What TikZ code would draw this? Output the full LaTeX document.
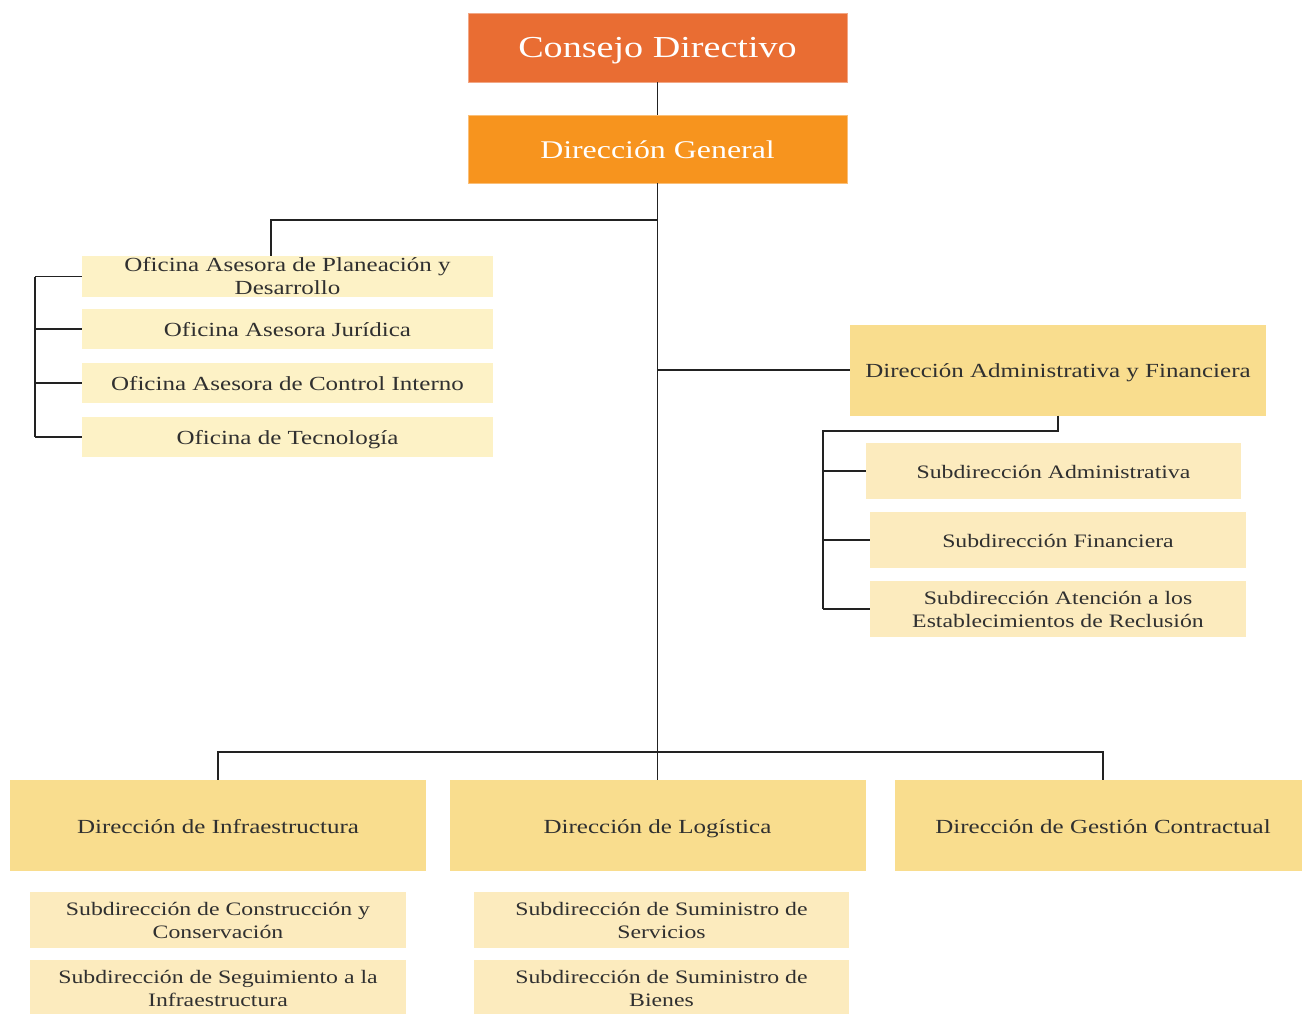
\documentclass[tikz,border=0pt]{standalone}
\usepackage{fontspec}
\setmainfont{Liberation Serif}[FakeStretch=1.25]
\usepackage{tikz}
\usetikzlibrary{positioning}
\definecolor{cdorange}{HTML}{E96D33}
\definecolor{dgorange}{HTML}{F7941E}
\definecolor{diryellow}{HTML}{F9DD8E}
\definecolor{ofyellow}{HTML}{FDF2C6}
\definecolor{subyellow}{HTML}{FCEBBE}
\definecolor{txtgray}{HTML}{303030}
\definecolor{linegray}{HTML}{222222}
\tikzset{
  cdbox/.style={ fill=cdorange, draw=cdorange!60, text=white, minimum width=379pt, minimum height=69pt, inner sep=0pt, text height=21pt, text depth=2pt, font=\fontsize{30.5}{34}\selectfont }
}
\tikzset{
  dgbox/.style={ fill=dgorange, draw=dgorange!60, text=white, minimum width=379pt, minimum height=68pt, inner sep=0pt, text height=19pt, text depth=1pt, font=\fontsize{25.5}{28}\selectfont }
}
\tikzset{
  dirbox/.style={ fill=diryellow, text=txtgray, minimum width=416pt, minimum height=91pt, inner sep=0pt, text height=17pt, text depth=2pt, font=\fontsize{20}{23}\selectfont }
}
\tikzset{
  ofbox/.style={ fill=ofyellow, text=txtgray, minimum width=411pt, minimum height=40pt, inner sep=0pt, align=center, font=\fontsize{20}{23}\selectfont }
}
\tikzset{
  subbox/.style={ fill=subyellow, text=txtgray, minimum width=376pt, minimum height=56pt, inner sep=0pt, align=center, font=\fontsize{19}{23}\selectfont }
}
\tikzset{
  oneline/.style={ text height=15pt, text depth=1pt }
}
\tikzset{
  link/.style={ draw=linegray, line width=1.4pt }
}

\begin{document}
\begin{tikzpicture}[x=1pt, y=-1pt]
      \useasboundingbox (0, 0) rectangle (1302, 1013);
      \node[cdbox] (cd) at (657.5, 47.5) {Consejo Directivo};
      \node[dgbox] (dg) at (657.5, 149) {Dirección General};
      % oficinas asesoras
      \node[ofbox, minimum height=41pt] (ofp) at (287.5, 276.5) {Oficina Asesora de Planeación y\\Desarrollo};
      \node[ofbox, oneline] (ofj) at (287.5, 329) {Oficina Asesora Jurídica};
      \node[ofbox, oneline] (ofc) at (287.5, 383) {Oficina Asesora de Control Interno};
      \node[ofbox, oneline] (oft) at (287.5, 437) {Oficina de Tecnología};
      % direccion administrativa
      \node[dirbox] (daf) at (1058, 370) {Dirección Administrativa y Financiera};
      \node[subbox, oneline, minimum width=375pt] (sa) at (1053.5, 471) {Subdirección Administrativa};
      \node[subbox, oneline] (sf) at (1058, 540) {Subdirección Financiera};
      \node[subbox] (sr) at (1058, 609) {Subdirección Atención a los\\Establecimientos de Reclusión};
      % direcciones inferiores
      \node[dirbox] (di) at (218, 825.5) {Dirección de Infraestructura};
      \node[dirbox] (dl) at (657.5, 825.5) {Dirección de Logística};
      \node[dirbox] (dc) at (1103, 825.5) {Dirección de Gestión Contractual};
      \node[subbox] (sc) at (218, 920) {Subdirección de Construcción y\\Conservación};
      \node[subbox] (ss) at (218, 988) {Subdirección de Seguimiento a la\\Infraestructura};
      \node[subbox, minimum width=375pt] (sv) at (661.5, 920) {Subdirección de Suministro de\\Servicios};
      \node[subbox, minimum width=375pt] (sb) at (661.5, 988) {Subdirección de Suministro de\\Bienes};
      \coordinate (ja) at (657.5, 220);
      \coordinate (lb) at (35, 0);
      \coordinate (rb) at (823, 431);
      \coordinate (bb) at (657.5, 752);
      \draw[link] (cd) -- (dg);
      \draw[link] (dg) -- (dl);
      \draw[link] (ja) -| ([xshift=-16.5pt]ofp.north);
      \foreach \n in {ofp, ofj, ofc, oft}
        \draw[link] (\n.west) -- (\n.west -| lb);
      \draw[link] (ofp.west -| lb) -- (oft.west -| lb);
      \draw[link] (daf.west) -- (daf.west -| dg.south);
      \draw[link] (daf.south) |- (rb) -- (rb |- sr.west);
      \foreach \n in {sa, sf, sr}
        \draw[link] (\n.west) -- (\n.west -| rb);
      \draw[link] (di.north) |- (bb) -| (dc.north);
    \end{tikzpicture}
\end{document}
